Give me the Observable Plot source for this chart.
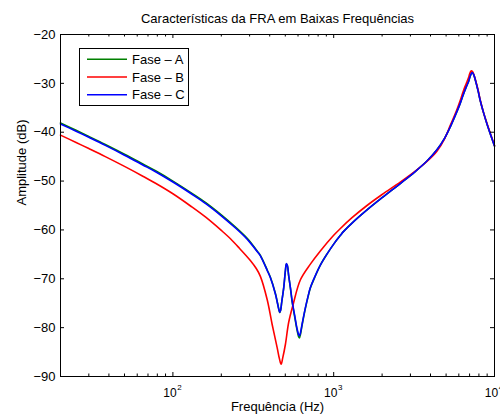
<!DOCTYPE html>
<html>
<head>
<meta charset="utf-8">
<script src="https://cdn.jsdelivr.net/npm/d3@7"></script>
<script src="https://cdn.jsdelivr.net/npm/@observablehq/plot@0.6"></script>
<style>
  html, body { margin: 0; padding: 0; background: #fff; }
  #wrap { position: relative; width: 500px; height: 416px; overflow: hidden; }
  #wrap > svg { display: block; }
</style>
</head>
<body>
<div id="wrap"></div>
<script>
const title = "Características da FRA em Baixas Frequências";
const xLabel = "Frequência (Hz)";
const yLabel = "Amplitude (dB)";
const seriesNames = ["Fase – A", "Fase – B", "Fase – C"];
const seriesColors = ["#008000", "#ff0000", "#0000ff"];

// Fase – A (green) and Fase – C (blue) share a frequency grid
const freqAC = [20, 25, 30, 38, 50, 65, 78, 100, 130, 160, 200, 245, 280, 304, 334, 350, 386, 404, 434, 447, 455, 462, 468, 475, 489, 500, 508, 515, 525, 538, 552, 572, 590, 606, 612, 620, 640, 667, 690, 716, 760, 826, 910, 1000, 1101, 1153, 1300, 1611, 2000, 2594, 3200, 3800, 4385, 4900, 5310, 5800, 6120, 6410, 6700, 6900, 7100, 7260, 7400, 7600, 7900, 8150, 8600, 8980, 9500, 10000];
const faseA = [-38.1, -39.6, -40.85, -42.5, -44.5, -46.5, -47.9, -50.0, -52.4, -54.4, -56.9, -59.4, -61.2, -62.5, -64.3, -65.2, -68.2, -69.7, -73.0, -74.9, -76.1, -76.9, -76.4, -74.8, -71.8, -68.6, -67.0, -67.3, -69.4, -71.9, -74.8, -77.8, -80.3, -81.9, -82.1, -81.5, -79.0, -76.0, -73.9, -71.9, -69.8, -67.2, -64.9, -62.9, -61.1, -60.3, -58.6, -55.9, -53.4, -50.5, -48.1, -45.9, -43.6, -41.2, -38.9, -36.0, -34.1, -32.2, -30.6, -29.6, -28.3, -27.8, -28.1, -29.3, -31.5, -33.5, -36.3, -38.3, -40.7, -42.8];
const faseC = [-38.3, -39.8, -41.05, -42.7, -44.7, -46.7, -48.1, -50.2, -52.6, -54.6, -57.1, -59.6, -61.4, -62.7, -64.4, -65.3, -68.3, -69.8, -73.1, -75.0, -76.2, -76.9, -76.4, -74.8, -71.8, -68.5, -66.9, -67.3, -69.4, -71.8, -74.6, -77.5, -80.0, -81.5, -81.7, -81.2, -78.8, -75.9, -73.8, -71.8, -69.7, -67.2, -64.9, -62.9, -61.1, -60.3, -58.6, -55.9, -53.4, -50.5, -48.1, -45.9, -43.6, -41.2, -38.9, -36.0, -34.1, -32.2, -30.6, -29.6, -28.3, -27.8, -28.1, -29.3, -31.5, -33.5, -36.3, -38.3, -40.7, -42.8];

// Fase – B (red)
const freqB = [20, 25, 30, 38, 50, 65, 78, 100, 130, 160, 200, 228, 260, 304, 330, 350, 386, 414, 445, 460, 471, 482, 501, 525, 560, 621, 716, 826, 1000, 1101, 1300, 1611, 2000, 2594, 3200, 3800, 4385, 4900, 5310, 5800, 6120, 6410, 6700, 6900, 7000, 7150, 7300, 7450, 7600, 7900, 8150, 8600, 8980, 9500, 10000];
const faseB = [-40.6, -42.1, -43.35, -45.0, -47.0, -49.0, -50.45, -52.6, -55.2, -57.4, -60.1, -61.8, -63.8, -66.3, -67.9, -69.5, -74.3, -79.3, -84.1, -86.4, -87.5, -86.2, -83.4, -78.9, -75.2, -70.2, -67.0, -64.3, -61.1, -59.7, -57.5, -55.0, -52.75, -50.2, -48.0, -46.0, -43.9, -41.3, -38.6, -35.6, -33.5, -31.5, -29.9, -28.8, -28.1, -27.45, -27.6, -28.3, -29.2, -31.3, -33.4, -36.3, -38.2, -40.6, -42.7];

const xMajor = [100, 1000, 10000];
const xMinor = [20, 30, 40, 50, 60, 70, 80, 90, 200, 300, 400, 500, 600, 700, 800, 900, 2000, 3000, 4000, 5000, 6000, 7000, 8000, 9000];
const yTicks = [-90, -80, -70, -60, -50, -40, -30, -20];

const toRows = (fs, vs, name) => fs.map((f, i) => ({f, v: vs[i], name}));
const dataA = toRows(freqAC, faseA, seriesNames[0]);
const dataB = toRows(freqB, faseB, seriesNames[1]);
const dataC = toRows(freqAC, faseC, seriesNames[2]);

const W = 500, H = 416, mL = 60, mR = 6, mT = 34, mB = 40;
const fw = W - mL - mR, fh = H - mT - mB;
const font = '"Liberation Sans", Arial, sans-serif';

const chart = Plot.plot({
  width: W, height: H,
  marginLeft: mL, marginRight: mR, marginTop: mT, marginBottom: mB,
  style: {fontFamily: font, fontSize: "13px", color: "#000", background: "#fff"},
  x: {type: "log", domain: [20, 10000], axis: null},
  y: {domain: [-90, -20], axis: null},
  marks: [
    Plot.line(dataA, {x: "f", y: "v", stroke: seriesColors[0], strokeWidth: 1.6, curve: "catmull-rom"}),
    Plot.line(dataB, {x: "f", y: "v", stroke: seriesColors[1], strokeWidth: 1.6, curve: "catmull-rom"}),
    Plot.line(dataC, {x: "f", y: "v", stroke: seriesColors[2], strokeWidth: 1.6, curve: "catmull-rom"}),
    // inward ticks, bottom & top
    Plot.ruleX(xMajor, {x: d => d, insetTop: fh - 4, stroke: "black"}),
    Plot.ruleX(xMajor, {x: d => d, insetBottom: fh - 4, stroke: "black"}),
    Plot.ruleX(xMinor, {x: d => d, insetTop: fh - 2.5, stroke: "black"}),
    Plot.ruleX(xMinor, {x: d => d, insetBottom: fh - 2.5, stroke: "black"}),
    // inward ticks, left & right
    Plot.ruleY(yTicks, {y: d => d, insetRight: fw - 4, stroke: "black"}),
    Plot.ruleY(yTicks, {y: d => d, insetLeft: fw - 4, stroke: "black"}),
    Plot.frame({stroke: "black", strokeWidth: 1}),
    // y tick labels
    Plot.axisY(yTicks, {tickSize: 0, tickPadding: 5, label: null, fontSize: 13}),
    // x tick labels 10^n
    Plot.text(xMajor, {x: d => d, text: () => "10", frameAnchor: "bottom", dy: 17, dx: 3.7, textAnchor: "end", lineAnchor: "middle", fontSize: 12}),
    Plot.text(xMajor, {x: d => d, text: d => String(Math.round(Math.log10(d))), frameAnchor: "bottom", dy: 10.5, dx: 4.3, textAnchor: "start", lineAnchor: "middle", fontSize: 8}),
    // title and axis labels
    Plot.text([title], {text: d => d, frameAnchor: "top", dy: -15.5, lineAnchor: "middle", fontSize: 13}),
    Plot.text([xLabel], {text: d => d, frameAnchor: "bottom", dy: 30, lineAnchor: "middle", fontSize: 13}),
    Plot.text([yLabel], {text: d => d, frameAnchor: "left", dx: -39, rotate: -90, lineAnchor: "middle", fontSize: 13})
  ]
});

const wrap = document.getElementById("wrap");
wrap.appendChild(chart);

// Legend as an SVG overlay
const legend = d3.create("svg")
  .attr("width", W).attr("height", H)
  .style("position", "absolute").style("left", "0px").style("top", "0px")
  .style("font-family", font).style("font-size", "13px");
legend.append("rect")
  .attr("x", 79.5).attr("y", 48.5).attr("width", 109).attr("height", 57)
  .attr("fill", "#fff").attr("stroke", "#000").attr("stroke-width", 1);
seriesNames.forEach((name, i) => {
  const cy = 59.3 + i * 17.7;
  legend.append("line")
    .attr("x1", 87).attr("x2", 127).attr("y1", cy).attr("y2", cy)
    .attr("stroke", seriesColors[i]).attr("stroke-width", 1.6);
  legend.append("text")
    .attr("x", 132).attr("y", cy).attr("dy", "0.35em")
    .attr("fill", "#000").text(name);
});
wrap.appendChild(legend.node());
</script>
</body>
</html>
